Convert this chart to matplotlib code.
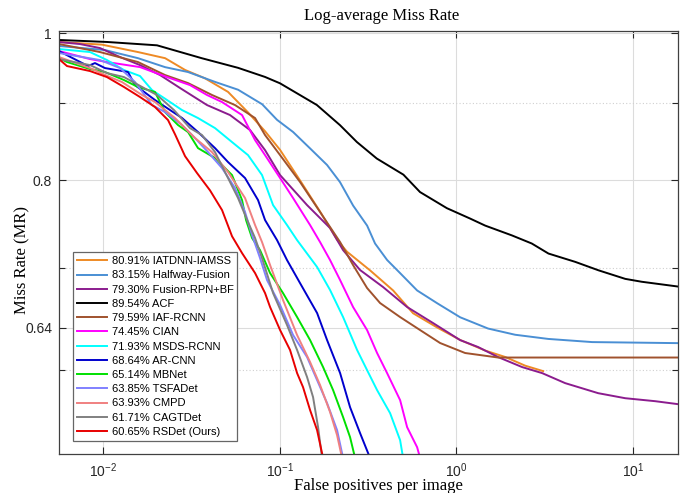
import matplotlib
matplotlib.use("Agg")
import matplotlib.pyplot as plt
from matplotlib.ticker import FixedLocator, FixedFormatter, NullFormatter, NullLocator

plt.rcParams['font.family'] = ['Liberation Sans', 'DejaVu Sans']

# FPPI (x) and miss rate (y)
iatdnn_x = [0.00561, 0.00983, 0.01573, 0.0224, 0.02903, 0.03769, 0.05087, 0.0660, 0.0824, 0.1002, 0.131,
            0.169, 0.211, 0.240, 0.324, 0.438, 0.568, 0.778, 1.05, 1.455, 1.89, 2.45, 3.10]
iatdnn_y = [0.987, 0.983, 0.972, 0.963, 0.946, 0.934, 0.915, 0.887, 0.862, 0.838, 0.799,
            0.763, 0.731, 0.718, 0.698, 0.677, 0.654, 0.640, 0.628, 0.618, 0.612, 0.604, 0.599]

halfway_x = [0.00561, 0.0102, 0.01573, 0.0224, 0.0302, 0.0429, 0.0580, 0.0794, 0.0964, 0.1188, 0.148, 0.185,
             0.219, 0.260, 0.312, 0.346, 0.405, 0.480, 0.599, 0.778, 1.05, 1.51, 2.15, 3.31, 5.87, 18.04]
halfway_y = [0.981, 0.975, 0.963, 0.950, 0.943, 0.929, 0.918, 0.898, 0.877, 0.861, 0.840, 0.819,
             0.798, 0.770, 0.747, 0.727, 0.709, 0.695, 0.677, 0.664, 0.650, 0.639, 0.633, 0.629, 0.626, 0.625]

fusion_x = [0.00561, 0.00738, 0.00958, 0.01243, 0.01614, 0.02096, 0.02721, 0.03868, 0.05221, 0.0678, 0.08244,
            0.1003, 0.1426, 0.1925, 0.2281, 0.2847, 0.3842, 0.5256, 0.7379, 1.049, 1.327, 1.723, 2.356,
            3.059, 4.129, 6.352, 9.033, 13.36, 18.04]
fusion_y = [0.9869, 0.9839, 0.9779, 0.9647, 0.9530, 0.9387, 0.9204, 0.8969, 0.8834, 0.8635, 0.8376,
            0.8065, 0.7706, 0.7442, 0.7197, 0.6983, 0.6805, 0.6602, 0.6443, 0.6279, 0.6213, 0.6119, 0.6027,
            0.5972, 0.5882, 0.5793, 0.5749, 0.5723, 0.5697]

acf_x = [0.00561, 0.01049, 0.02015, 0.0361, 0.058, 0.0824, 0.1002, 0.162, 0.219, 0.273, 0.354, 0.501,
         0.622, 0.883, 1.196, 1.455, 2.06, 2.67, 3.32, 4.71, 6.38, 9.04, 11.2, 18.04]
acf_y = [0.990, 0.987, 0.982, 0.963, 0.949, 0.936, 0.927, 0.897, 0.870, 0.848, 0.827, 0.807,
         0.786, 0.767, 0.755, 0.747, 0.736, 0.727, 0.716, 0.707, 0.698, 0.689, 0.686, 0.681]

iaf_x = [0.00561, 0.00958, 0.01572, 0.02237, 0.0302, 0.04128, 0.05573, 0.07237, 0.08244, 0.1003, 0.1301,
         0.169, 0.2194, 0.2598, 0.3119, 0.3694, 0.4798, 0.6228, 0.8085, 1.12, 1.723, 18.04]
iaf_y = [0.9839, 0.9720, 0.9574, 0.9387, 0.9273, 0.9107, 0.8969, 0.8794, 0.8570, 0.8313, 0.7981,
         0.7625, 0.7285, 0.7036, 0.6795, 0.6642, 0.6502, 0.6375, 0.6251, 0.6157, 0.6115, 0.6115]

cian_x = [0.00561, 0.00841, 0.01049, 0.01614, 0.02296, 0.03098, 0.03868, 0.04705, 0.06107, 0.07237, 0.08244,
          0.1003, 0.1188, 0.1483, 0.169, 0.1925, 0.2194, 0.2598, 0.3119, 0.3553, 0.4049, 0.4798, 0.5256,
          0.5989, 0.6228]
cian_y = [0.9735, 0.9617, 0.9574, 0.9501, 0.9358, 0.9245, 0.9107, 0.9010, 0.8834, 0.8505, 0.8313,
          0.8029, 0.7789, 0.7476, 0.7285, 0.7089, 0.6877, 0.6602, 0.6375, 0.6157, 0.5972, 0.5732, 0.5502,
          0.5337, 0.525]

msds_x = [0.00561, 0.00841, 0.01049, 0.0131, 0.01614, 0.01888, 0.02296, 0.02793, 0.03439, 0.04293, 0.0536,
          0.06604, 0.07927, 0.09152, 0.1098, 0.1252, 0.1625, 0.1925, 0.2281, 0.2738, 0.3119, 0.3553, 0.4211,
          0.4798, 0.4989]
msds_y = [0.9765, 0.9720, 0.9603, 0.9458, 0.9373, 0.9175, 0.9038, 0.8901, 0.8794, 0.8661, 0.8479,
          0.8313, 0.8065, 0.7706, 0.7476, 0.7307, 0.7015, 0.6774, 0.6502, 0.6185, 0.5999, 0.5820, 0.5620,
          0.5394, 0.525]

arcnn_x = [0.00561, 0.00819, 0.00897, 0.01022, 0.0138, 0.01512, 0.01963, 0.02793, 0.03439, 0.04293, 0.05087,
           0.0635, 0.07523, 0.08244, 0.09641, 0.1098, 0.1301, 0.1625, 0.1851, 0.2194, 0.2498, 0.2847, 0.3243]
arcnn_y = [0.9735, 0.9516, 0.9559, 0.9487, 0.9430, 0.9245, 0.9038, 0.8794, 0.8609, 0.8402, 0.8226,
           0.8029, 0.7765, 0.7533, 0.7307, 0.7089, 0.6846, 0.6542, 0.6279, 0.5972, 0.5671, 0.5452, 0.525]

mbnet_x = [0.00561, 0.00623, 0.00841, 0.01022, 0.0131, 0.01572, 0.01963, 0.02237, 0.0265, 0.0302, 0.03439,
           0.04293, 0.0536, 0.06107, 0.06434, 0.0696, 0.07722, 0.08801, 0.1042, 0.1252, 0.1483, 0.1757,
           0.2002, 0.2281, 0.2498, 0.2667]
mbnet_y = [0.9632, 0.9574, 0.9473, 0.9430, 0.9316, 0.9218, 0.9148, 0.8874, 0.8701, 0.8609, 0.8402,
           0.8276, 0.8065, 0.7765, 0.7533, 0.7330, 0.7197, 0.6951, 0.6743, 0.6502, 0.6279, 0.6027,
           0.5820, 0.5586, 0.5419, 0.525]

tsfa_x = [0.00561, 0.00958, 0.01243, 0.01512, 0.01888, 0.02237, 0.02793, 0.03308, 0.03919, 0.04705, 0.05573,
          0.0635, 0.0696, 0.07722, 0.08462, 0.1003, 0.1188, 0.1426, 0.1625, 0.1851, 0.2109, 0.2281]
tsfa_y = [0.9706, 0.9603, 0.9487, 0.9288, 0.8969, 0.8874, 0.8701, 0.8531, 0.8351, 0.8151, 0.7908,
          0.7625, 0.7363, 0.7111, 0.6877, 0.6622, 0.6327, 0.6119, 0.5909, 0.5706, 0.5477, 0.525]

cmpd_x = [0.00561, 0.00841, 0.01091, 0.01276, 0.01657, 0.01963, 0.02548, 0.03308, 0.04128, 0.05087, 0.0635,
          0.07237, 0.07927, 0.08801, 0.1042, 0.1252, 0.1483, 0.169, 0.1925, 0.2109, 0.2251]
cmpd_y = [0.9647, 0.9487, 0.9358, 0.9288, 0.9107, 0.9010, 0.8794, 0.8531, 0.8351, 0.8102, 0.7789,
          0.7476, 0.7285, 0.7036, 0.6672, 0.6327, 0.6073, 0.5864, 0.5629, 0.5435, 0.525]

cagt_x = [0.00561, 0.00841, 0.01049, 0.0131, 0.017, 0.02015, 0.02515, 0.03098, 0.03623, 0.04293, 0.05087,
          0.05796, 0.06604, 0.07237, 0.07927, 0.09152, 0.1098, 0.1252, 0.1426, 0.1542, 0.1646, 0.1734]
cagt_y = [0.9617, 0.9530, 0.9415, 0.9358, 0.9204, 0.9107, 0.8901, 0.8661, 0.8570, 0.8351, 0.8029,
          0.7789, 0.7510, 0.7330, 0.7111, 0.6743, 0.6424, 0.6185, 0.5936, 0.5758, 0.5502, 0.525]

rsdet_x = [0.00561, 0.00623, 0.00841, 0.01049, 0.0131, 0.01614, 0.01963, 0.02326, 0.02548, 0.02904, 0.03395,
           0.04022, 0.04705, 0.0536, 0.06107, 0.07237, 0.08244, 0.08801, 0.1003, 0.1142, 0.1252, 0.1353,
           0.1483, 0.1625, 0.1757]
rsdet_y = [0.9617, 0.9516, 0.9444, 0.9358, 0.9218, 0.9079, 0.8942, 0.8767, 0.8580, 0.8300, 0.8090,
           0.7880, 0.7648, 0.7350, 0.7165, 0.6951, 0.6743, 0.6602, 0.6375, 0.6185, 0.5972, 0.5846,
           0.5646, 0.5477, 0.525]

labels = ["80.91% IATDNN-IAMSS", "83.15% Halfway-Fusion", "79.30% Fusion-RPN+BF", "89.54% ACF",
          "79.59% IAF-RCNN", "74.45% CIAN", "71.93% MSDS-RCNN", "68.64% AR-CNN", "65.14% MBNet",
          "63.85% TSFADet", "63.93% CMPD", "61.71% CAGTDet", "60.65% RSDet (Ours)"]
colors = ["#EE8A25", "#4A8FD4", "#8B1C8E", "#000000", "#A0522D", "#FF00FF", "#00FFFF",
          "#0000CD", "#00E000", "#8080FF", "#F08080", "#808080", "#E80000"]
series = [(iatdnn_x, iatdnn_y), (halfway_x, halfway_y), (fusion_x, fusion_y), (acf_x, acf_y),
          (iaf_x, iaf_y), (cian_x, cian_y), (msds_x, msds_y), (arcnn_x, arcnn_y), (mbnet_x, mbnet_y),
          (tsfa_x, tsfa_y), (cmpd_x, cmpd_y), (cagt_x, cagt_y), (rsdet_x, rsdet_y)]

fig = plt.figure(figsize=(6.97, 4.93), dpi=100)
ax = fig.add_axes([0.0846, 0.0785, 0.8885, 0.8592])

for (xs, ys), lab, c in zip(series, labels, colors):
    ax.plot(xs, ys, color=c, lw=1.4, label=lab)

ax.set_xscale("log")
ax.set_yscale("log")
ax.set_xlim(0.00561, 18.04)
ax.set_ylim(0.528, 1.004)

ax.yaxis.set_major_locator(FixedLocator([0.64, 0.8, 1.0]))
ax.yaxis.set_major_formatter(FixedFormatter(["0.64", "0.8", "1"]))
ax.yaxis.set_minor_locator(FixedLocator([0.6, 0.7, 0.9]))
ax.yaxis.set_minor_formatter(NullFormatter())
ax.xaxis.set_minor_locator(NullLocator())

ax.grid(True, which="major", color="#dcdcdc", lw=0.8, ls="-")
ax.grid(True, which="minor", axis="y", color="#d0d0d0", lw=0.8, ls=(0, (1, 2)))
ax.set_axisbelow(True)

ax.tick_params(which="both", direction="in", top=True, right=True, colors="#262626",
               labelsize=10, width=0.8)
ax.tick_params(which="major", length=5, pad=5)
ax.tick_params(which="minor", length=4)
for s in ax.spines.values():
    s.set_color("#404040")
    s.set_linewidth(0.9)

leg = ax.legend(loc="lower left", bbox_to_anchor=(0.023, 0.032), fontsize=8, frameon=True,
                fancybox=False, framealpha=1, edgecolor="#666666", handlelength=2.7,
                handletextpad=0.4, labelspacing=0.38, borderpad=0.35, borderaxespad=0)
leg.get_frame().set_linewidth(0.9)

serif = ["Liberation Serif", "DejaVu Serif"]
fig.text(0.548, 0.9604, "Log-average Miss Rate", family=serif, fontsize=12, ha="center", va="baseline")
fig.text(0.5423, 0.007, "False positives per image", family=serif, fontsize=12, ha="center", va="baseline")
fig.text(0.0316, 0.4726, "Miss Rate (MR)", family=serif, fontsize=12, ha="center", va="center", rotation=90)

fig.savefig("out.png", dpi=100)
